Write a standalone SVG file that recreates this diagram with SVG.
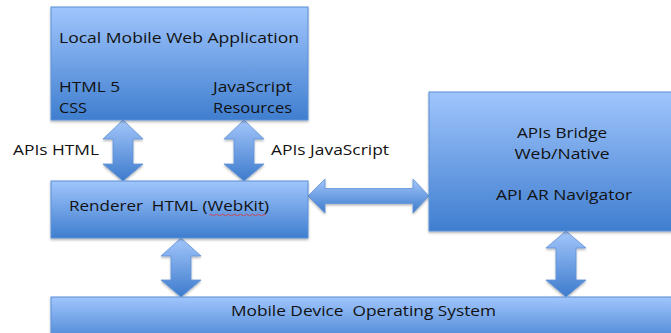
<svg xmlns="http://www.w3.org/2000/svg" width="671" height="333" viewBox="0 0 671 333">
<style>
.box{fill:url(#bg);stroke:#5b8fd6;stroke-width:1;filter:url(#sh)}
.arr{fill:url(#ag);stroke:#5f93d8;stroke-width:0.8;filter:url(#sh)}
text{font-family:"Open Sans","Liberation Sans",sans-serif;font-size:15px;fill:#111}
.c{text-anchor:middle}
</style>
<defs>
<linearGradient id="bg" x1="0" y1="0" x2="0" y2="1">
<stop offset="0" stop-color="#a0c5fc"/>
<stop offset="1" stop-color="#3f7ecf"/>
</linearGradient>
<linearGradient id="ag" x1="0" y1="0" x2="0" y2="1">
<stop offset="0" stop-color="#a3c6fb"/>
<stop offset="1" stop-color="#3d7bcc"/>
</linearGradient>
<filter id="sh" x="-10%" y="-10%" width="120%" height="130%">
<feDropShadow dx="0" dy="1.5" stdDeviation="1" flood-color="#000" flood-opacity="0.3"/>
</filter>
</defs>
<g id="connectors">
<path class="arr" d="M123,120 L143,139 L133,139 L133,164 L143,164 L123,181 L103,164 L113,164 L113,139 L103,139 Z"/>
<path class="arr" d="M244,120 L264,139 L254,139 L254,164 L264,164 L244,181 L224,164 L234,164 L234,139 L224,139 Z"/>
<path class="arr" d="M181,238 L201,256 L191,256 L191,280 L201,280 L181,297 L161,280 L171,280 L171,256 L161,256 Z"/>
<path class="arr" d="M566,231 L586,248 L576,248 L576,280 L586,280 L566,297 L546,280 L556,280 L556,248 L546,248 Z"/>
<path class="arr" d="M308,196 L325,179 L325,188.5 L413,188.5 L413,179 L429,196 L413,213 L413,203.5 L325,203.5 L325,213 Z"/>
<text x="13" y="155" textLength="86" lengthAdjust="spacingAndGlyphs">APIs HTML</text>
<text x="271" y="155" textLength="118" lengthAdjust="spacingAndGlyphs">APIs JavaScript</text>
</g>
<g id="app">
<rect class="box" x="51" y="7" width="257" height="113"/>
<text x="59" y="43" textLength="240" lengthAdjust="spacingAndGlyphs">Local Mobile Web  Application</text>
<text x="59" y="92" textLength="61" lengthAdjust="spacingAndGlyphs">HTML 5</text>
<text x="59" y="113" textLength="28" lengthAdjust="spacingAndGlyphs">CSS</text>
<text x="213" y="92" textLength="79" lengthAdjust="spacingAndGlyphs">JavaScript</text>
<text x="213" y="113" textLength="79" lengthAdjust="spacingAndGlyphs">Resources</text>
</g>
<g id="renderer">
<rect class="box" x="51" y="181" width="257" height="57"/>
<text x="69" y="211" textLength="200" lengthAdjust="spacingAndGlyphs" xml:space="preserve">Renderer  HTML (WebKit)</text>
<path d="M209,215 q1.5,-1.5 3,0 t3,0 t3,0 t3,0 t3,0 t3,0 t3,0 t3,0 t3,0 t3,0 t3,0 t3,0 t3,0 t3,0 t3,0 t3,0 t3,0 t3,0 t3,0" fill="none" stroke="#e23030" stroke-width="0.8"/>
</g>
<g id="bridge">
<rect class="box" x="429" y="92" width="260" height="139"/>
<text class="c" x="562" y="138" textLength="90" lengthAdjust="spacingAndGlyphs">APIs Bridge</text>
<text class="c" x="562" y="159" textLength="95" lengthAdjust="spacingAndGlyphs">Web/Native</text>
<text class="c" x="564" y="200" textLength="136" lengthAdjust="spacingAndGlyphs">API AR Navigator</text>
</g>
<g id="os">
<rect class="box" x="51" y="297" width="640" height="50"/>
<text x="231" y="316" textLength="265" lengthAdjust="spacingAndGlyphs" xml:space="preserve">Mobile Device  Operating System</text>
</g>
</svg>
